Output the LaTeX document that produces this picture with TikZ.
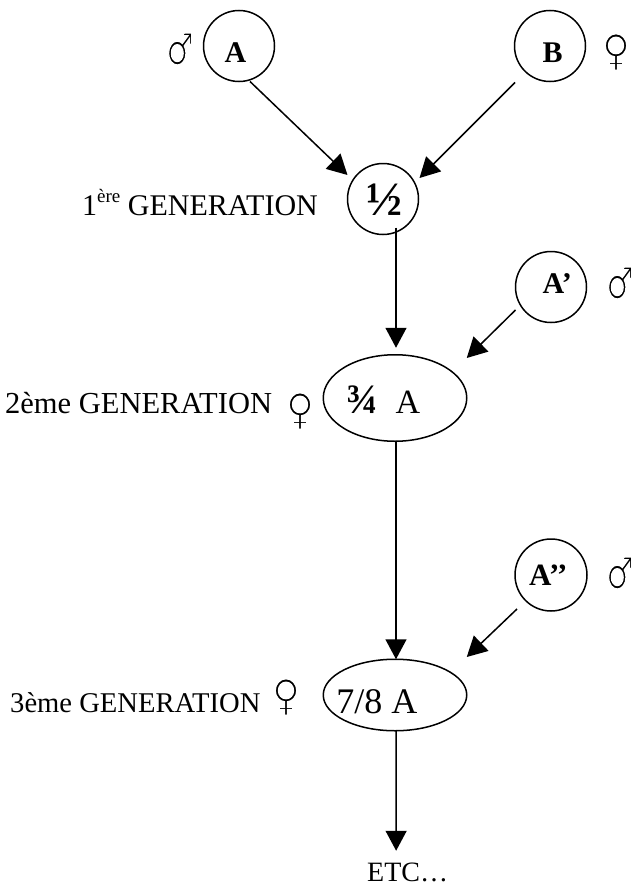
\documentclass[tikz,border=0pt]{standalone}
\usepackage{fontspec}
\setmainfont{Liberation Serif}
\newfontfamily\symfont{DejaVu Sans}
\usetikzlibrary{shapes.geometric,arrows.meta}
\newcommand\placetxt[3]{\makebox[0pt][l]{\kern#1pt\raisebox{#2pt}[0pt][0pt]{#3}}}
\newcommand\thinglyph[1]{\special{pdf:literal direct q 2 Tr 1 1 1 RG 1.6 w}#1\special{pdf:literal direct Q}}
\begin{document}
\begin{tikzpicture}[x=1pt,y=-1pt,
  circ/.style={circle,draw,line width=1.5pt,minimum size=71pt,inner sep=0pt,outer sep=0pt},
  ell/.style={ellipse,draw,line width=1.5pt,minimum width=143.5pt,inner sep=0pt,outer sep=0pt},
  arr/.style={line width=1.5pt,-{Triangle[length=20pt,width=21pt]}},
  lbl/.style={anchor=base west,inner sep=0pt},
  male/.style={inner sep=0pt,xscale=0.7,transform shape,font=\symfont\fontsize{44}{44}\selectfont},
  female/.style={inner sep=0pt,xscale=0.9,transform shape,font=\symfont\fontsize{43}{43}\selectfont}]
\useasboundingbox (0,0) rectangle (633,886);
\fill[white] (0,0) rectangle (633,886);
% parents and crosses
\node[circ] (A) at (239,46) {\placetxt{-14.5}{-16}{\bfseries\fontsize{30}{30}\selectfont A}};
\node[circ] (B) at (550,46) {\placetxt{-7.5}{-16}{\bfseries\fontsize{30}{30}\selectfont B}};
\node[circ] (half) at (383,199) {\placetxt{-17}{-16}{\bfseries\fontsize{48}{48}\selectfont ½}};
\node[circ] (Ap) at (551,287) {\placetxt{-8.5}{-6}{\bfseries\fontsize{30}{30}\selectfont A’}};
\node[circ,minimum size=72pt] (App) at (551,575) {\placetxt{-22}{-10}{\bfseries\fontsize{31}{31}\selectfont A’’}};
\node[ell,minimum height=86.5pt] (g2) at (395,398) {\placetxt{-49}{-15}{{\bfseries\fontsize{42}{42}\selectfont ¾}\kern18pt{\fontsize{34}{34}\selectfont A}}};
\node[ell,minimum height=71.5pt] (g3) at (395,695) {\placetxt{-58.6}{-18}{\fontsize{36}{36}\selectfont 7/8 A}};
% labels
\node[lbl] (l1) at (82,215) {\fontsize{30}{30}\selectfont 1\raisebox{13pt}{\fontsize{19}{19}\selectfont ère} GENERATION};
\node[lbl] (l2) at (5,413) {\fontsize{30.5}{30.5}\selectfont 2ème GENERATION};
\node[lbl] (l3) at (10,712) {\fontsize{28.6}{28.6}\selectfont 3ème GENERATION};
\node[lbl] (etc) at (367,881) {\fontsize{28}{28}\selectfont ETC…};
% sex symbols
\node[male] (mA) at (180,49) {\thinglyph{♂}};
\node[female] (fB) at (616,52) {\thinglyph{♀}};
\node[male] (mAp) at (620,283) {\thinglyph{♂}};
\node[male] (mApp) at (620,573) {\thinglyph{♂}};
\node[female] (f2) at (300,411) {\thinglyph{♀}};
\node[female] (f3) at (286,697) {\thinglyph{♀}};
% connectors
\draw[arr] ([xshift=11pt]A.south) -- ([yshift=24pt]half.west);
\draw[arr] ([shift={(-35pt,-1pt)}]B.south) -- ([shift={(1pt,21pt)}]half.east);
\draw[arr] ([shift={(13pt,7pt)}]half.south) -- ([shift={(1pt,7pt)}]g2.north);
\draw[arr] ([yshift=-23pt]Ap.west) -- ([yshift=40pt]g2.east);
\draw[arr] ([xshift=1pt]g2.south) -- ([xshift=1pt]g3.north);
\draw[arr] ([shift={(2pt,-34pt)}]App.west) -- ([yshift=38pt]g3.east);
\draw[arr] ([xshift=1pt]g3.south) -- ([shift={(-11.5pt,11.5pt)}]etc.north);
\end{tikzpicture}
\end{document}
